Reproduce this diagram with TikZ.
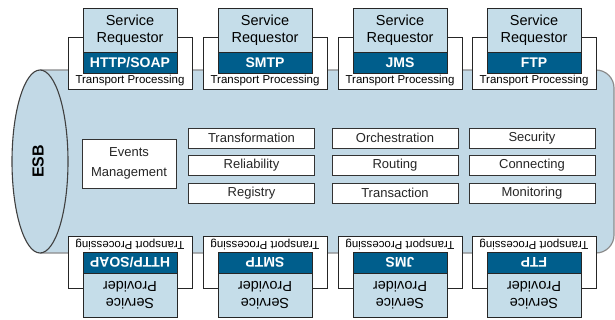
\documentclass[tikz,border=0pt]{standalone}
\usepackage{fontspec}
\setmainfont{Liberation Sans}
\usetikzlibrary{positioning}
\definecolor{esbblue}{RGB}{194,217,230}
\definecolor{reqblue}{RGB}{197,221,233}
\definecolor{banddark}{RGB}{0,94,140}
\tikzset{
  esbline/.style={draw=black!45, line width=1.2pt},
  funcbox/.style={draw=black!80, fill=white, line width=0.9pt, minimum width=126pt, minimum height=20pt, inner sep=0pt, text=black!85, font=\fontsize{13}{15}\selectfont},
  tpbox/.style={draw=black!85, fill=white, line width=0.9pt, minimum width=124pt, minimum height=52pt, inner sep=0pt},
  reqbox/.style={draw=black!85, fill=reqblue, line width=0.9pt, minimum width=94pt, minimum height=44pt, inner sep=0pt, align=center, font=\fontsize{14.5}{17}\selectfont},
  bandbox/.style={draw=black!85, fill=banddark, line width=0.9pt, minimum width=94pt, minimum height=21pt, inner sep=0pt, text=white, font=\bfseries\fontsize{14}{16}\selectfont},
  tptext/.style={inner sep=0pt, font=\fontsize{11.5}{13}\selectfont}
}

\begin{document}
\begin{tikzpicture}[x=1pt,y=-1pt]
  \useasboundingbox (0,0) rectangle (615,320);
  \draw[esbline,fill=esbblue,rounded corners=18pt] (40,70) -- (614,70) -- (614,253) -- (40,253);
  \draw[draw=black!75,fill=esbblue,line width=1.1pt] (40,161.5) ellipse [x radius=28,y radius=91.5];
  \node[rotate=90,font=\bfseries\fontsize{16}{18}\selectfont] (esb) at (38,161.5) {ESB};
  \node[funcbox,minimum width=94pt,minimum height=49pt,align=center,font=\fontsize{13}{20}\selectfont] (events) at (129,163.5) {Events\\Management};
  \foreach \x/\a/\b/\c [count=\i] in {251.5/Transformation/Reliability/Registry, 395/Orchestration/Routing/Transaction, 532/Security/Connecting/Monitoring}
  {
    \node[funcbox] (f\i-a) at (\x,138) {\a};
    \node[funcbox] (f\i-b) at (\x,165.5) {\b};
    \node[funcbox] (f\i-c) at (\x,193) {\c};
  }
  \foreach \s/\rot/\dir/\who in {t/0/1/Requestor, b/180/-1/Provider}
    \foreach \x/\p [count=\i] in {130/{HTTP/SOAP}, 265/SMTP, 400/JMS, 534/FTP}
    {
      \node[tpbox,rotate=\rot] (tp-\s\i) at (\x,{162.5-(\dir)*99.5}) {};
      \node[tptext,rotate=\rot] (tpt-\s\i) at (\x,{162.5-(\dir)*81.5}) {Transport Processing};
      \node[reqbox,rotate=\rot] (req-\s\i) at (\x,{162.5-(\dir)*132.5}) {Service\\\who};
      \node[bandbox,rotate=\rot] (band-\s\i) at (\x,{162.5-(\dir)*100}) {\p};
    }
\end{tikzpicture}
\end{document}
